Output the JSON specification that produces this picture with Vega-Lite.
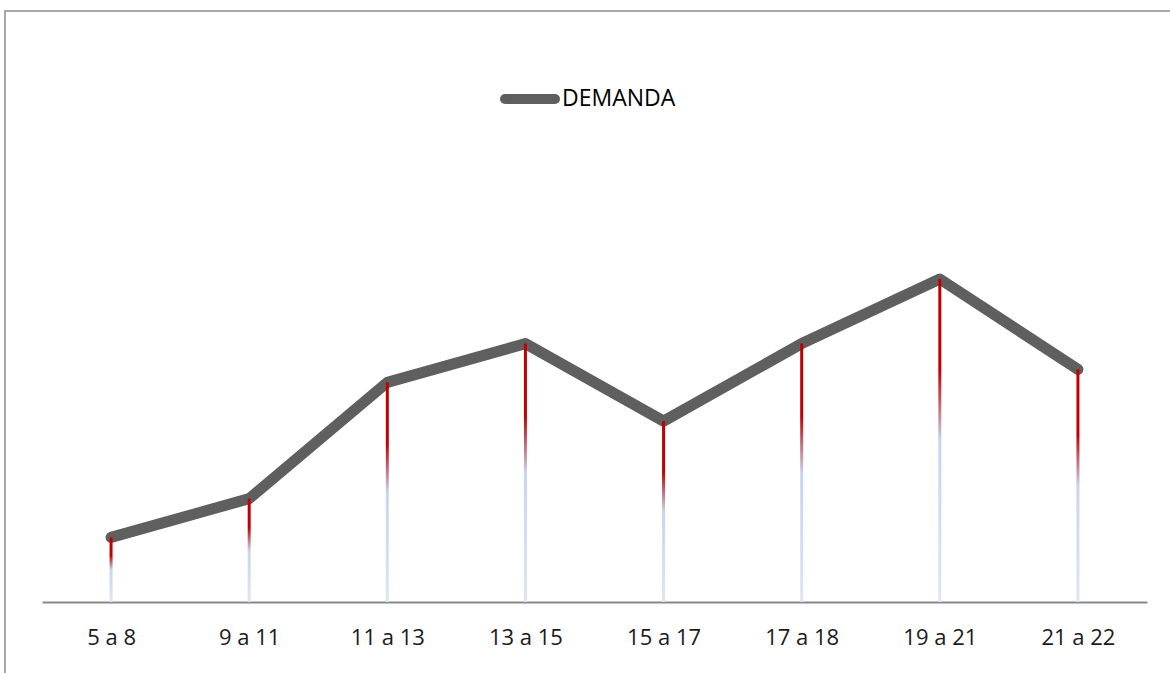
{
  "$schema": "https://vega.github.io/schema/vega-lite/v6.json",
  "autosize": {"type": "none"},
  "width": 1170,
  "height": 680,
  "padding": {"left": 5, "top": 11, "right": 0, "bottom": 0},
  "background": "#ffffff",
  "config": {
    "view": {"stroke": "#8c8c8c", "strokeWidth": 1.5},
    "font": "Open Sans"
  },
  "data": {
    "values": [
      {"franja": "5 a 8", "demanda": 20},
      {"franja": "9 a 11", "demanda": 32},
      {"franja": "11 a 13", "demanda": 68},
      {"franja": "13 a 15", "demanda": 80},
      {"franja": "15 a 17", "demanda": 56},
      {"franja": "17 a 18", "demanda": 80},
      {"franja": "19 a 21", "demanda": 100},
      {"franja": "21 a 22", "demanda": 72}
    ]
  },
  "encoding": {
    "x": {
      "field": "franja",
      "type": "nominal",
      "sort": null,
      "scale": {"type": "point", "range": [37, 1142], "padding": 0.5},
      "axis": {
        "title": null,
        "labelAngle": 0,
        "ticks": false,
        "grid": false,
        "domainColor": "#898989",
        "domainWidth": 2,
        "labelFont": "Open Sans",
        "labelFontSize": 22,
        "labelColor": "#1a1a1a",
        "labelPadding": 25,
        "offset": -89
      }
    },
    "y": {
      "field": "demanda",
      "type": "quantitative",
      "scale": {"domain": [0, 100], "range": [591, 268]},
      "axis": null
    }
  },
  "layer": [
    {
      "mark": {"type": "line", "strokeWidth": 11, "strokeCap": "round", "strokeJoin": "round"},
      "encoding": {
        "color": {
          "datum": "DEMANDA",
          "type": "nominal",
          "scale": {"range": ["#5f5f5f"]},
          "legend": {
            "title": null,
            "orient": "none",
            "legendX": 495,
            "legendY": 58,
            "padding": 0,
            "symbolType": "stroke",
            "symbolSize": 2500,
            "symbolStrokeWidth": 10,
            "labelFont": "Open Sans",
            "labelFontSize": 23,
            "labelColor": "#000000",
            "labelOffset": 2,
            "symbolOpacity": 1,
            "encode": {"symbols": {"update": {"strokeCap": {"value": "round"}}}}
          }
        }
      }
    },
    {
      "mark": {
        "type": "bar",
        "width": 3,
        "fill": {
          "gradient": "linear",
          "x1": 0, "y1": 0, "x2": 0, "y2": 1,
          "stops": [
            {"offset": 0, "color": "#C00000"},
            {"offset": 0.28, "color": "#C00000"},
            {"offset": 0.5, "color": "#C6D5EE"},
            {"offset": 1, "color": "#DDE6F4"}
          ]
        }
      },
      "encoding": {}
    }
  ]
}
